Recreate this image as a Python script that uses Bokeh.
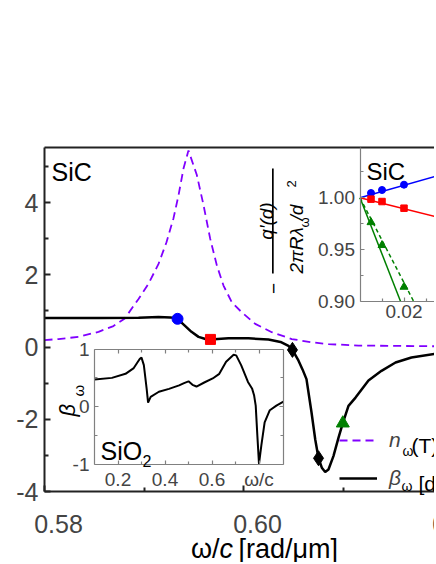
import math
from bokeh.plotting import figure
from bokeh.models import (Range1d, LinearAxis, FixedTicker, Label, Legend,
                          LegendItem, BoxAnnotation)
from bokeh.embed import file_html
from bokeh.resources import INLINE

FONT = "Liberation Sans"

# ---------------- data: main panel (SiC) ----------------
beta_omega = [0.58000, 0.58543, 0.58945, 0.59146, 0.59266, 0.59337, 0.59407, 0.59477,
              0.59548, 0.59618, 0.59668, 0.59849, 0.60050, 0.60251, 0.60372, 0.60452,
              0.60492, 0.60553, 0.60593, 0.60633, 0.60683, 0.60721, 0.60754, 0.60787,
              0.60821, 0.60854, 0.60904, 0.60955, 0.60998, 0.61055, 0.61126, 0.61256,
              0.61387, 0.61528, 0.61688, 0.61920]
beta_sic = [0.80, 0.80, 0.81, 0.83, 0.82, 0.78, 0.60, 0.42,
            0.28, 0.22, 0.21, 0.24, 0.24, 0.21, 0.14, 0.03,
            -0.08, -0.38, -0.62, -0.89, -1.80, -2.56, -3.08, -3.34,
            -3.46, -3.39, -3.02, -2.51, -2.11, -1.63, -1.40, -0.93,
            -0.66, -0.43, -0.29, -0.19]

n_omega = [0.58000, 0.58141, 0.58342, 0.58543, 0.58693, 0.58804, 0.58945, 0.59045,
           0.59146, 0.59226, 0.59296, 0.59347, 0.59397, 0.59447, 0.59531, 0.59598,
           0.59665, 0.59732, 0.59799, 0.59882, 0.59983, 0.60118, 0.60284, 0.60485,
           0.60686, 0.60854, 0.61156, 0.61558, 0.61920]
n_sic = [0.19, 0.22, 0.28, 0.42, 0.58, 0.78, 1.33, 1.75,
         2.30, 2.90, 3.56, 4.20, 4.94, 5.44, 4.76, 3.93,
         3.00, 2.26, 1.70, 1.24, 0.96, 0.64, 0.41, 0.22,
         0.13, 0.08, 0.04, 0.03, 0.02]

circle_omega, circle_beta = [0.59337], [0.78]
square_omega, square_beta = [0.59668], [0.21]
diamond_omega, diamond_beta = [0.60492, 0.60754], [-0.08, -3.08]
triangle_omega, triangle_beta = [0.60998], [-2.11]

main_x_ticks = [0.58, 0.60, 0.62]
main_x_tick_labels = ["0.58", "0.60", "0.62"]
main_x_minor = [0.59, 0.61]
main_y_ticks = [-4, -2, 0, 2, 4]
main_y_tick_labels = ["-4", "-2", "0", "2", "4"]
main_y_minor = [-3, -1, 1, 3, 5]

# ---------------- data: SiO2 inset ----------------
sio2_w = [0.100, 0.174, 0.232, 0.267, 0.293, 0.300, 0.310, 0.322, 0.328, 0.339,
          0.374, 0.417, 0.460, 0.481, 0.500, 0.517, 0.534, 0.567, 0.603, 0.631,
          0.660, 0.692, 0.703, 0.724, 0.753, 0.771, 0.779, 0.786, 0.793, 0.800,
          0.810, 0.824, 0.846, 0.874, 0.904]
sio2_beta = [0.47, 0.50, 0.57, 0.67, 0.83, 0.85, 0.72, 0.31, 0.07, 0.17,
             0.26, 0.31, 0.37, 0.41, 0.44, 0.38, 0.35, 0.42, 0.49, 0.57,
             0.78, 0.90, 0.89, 0.72, 0.43, 0.31, 0.20, 0.02, -0.50, -0.99,
             -0.67, -0.27, -0.06, 0.02, 0.09]
sio2_x_ticks = [0.2, 0.4, 0.6, 0.8]
sio2_x_tick_labels = ["0.2", "0.4", "0.6", "ω/c"]
sio2_x_minor = [0.3, 0.5, 0.7]
sio2_y_ticks = [-1, 0, 1]
sio2_y_tick_labels = ["-1", "0", "1"]
sio2_y_minor = [-0.5, 0.5]

# ---------------- data: SiC ratio inset ----------------
inv_d2 = [0.005, 0.01, 0.02]
ratio_blue = [1.0046, 1.0075, 1.0126]
ratio_red = [0.9987, 0.9964, 0.9900]
ratio_green = [0.9764, 0.9544, 0.9143]
fit_blue_x, fit_blue_y = [0.0, 0.034], [1.0, 1.0204]
fit_red_x, fit_red_y = [0.0, 0.034], [1.0, 0.982]
fit_green_x, fit_green_y = [0.0, 0.0185], [1.0, 0.90]
fit_green2_x, fit_green2_y = [0.0, 0.0245], [1.0, 0.90]
sic_x_ticks = [0.02]
sic_x_tick_labels = ["0.02"]
sic_x_minor = [0.01, 0.03]
sic_y_ticks = [0.90, 0.95, 1.00]
sic_y_tick_labels = ["0.90", "0.95", "1.00"]
sic_y_minor = [0.925, 0.975, 1.025]

# ---------------- layout (page pixels) ----------------
OFF = 2                       # observed offset of the canvas on the page
W, H = 434, 562               # canvas size; the frame fills the canvas
L, R, T, B = OFF, OFF + W, OFF, OFF + H
PLOT_TOP = 149                # page y of the top frame line of the main panel
BLUE, RED, GREEN, PURPLE, GRAY, INK = "#0000ff", "#ff0000", "#008000", "#8000ff", "#808080", "#222222"


def span(v0, p0, v1, p1, pa, pb):
    k = (v1 - v0) / (p1 - p0)
    return Range1d(start=v0 + (pa - p0) * k, end=v0 + (pb - p0) * k)


def at(v0, p0, v1, p1, pa):
    return v0 + (pa - p0) * (v1 - v0) / (p1 - p0)


p = figure(width=W, height=H, output_backend="svg", toolbar_location=None, title=None,
           x_axis_location=None, y_axis_location=None,
           x_range=span(0.58, 46, 0.60, 245, L, R),
           y_range=span(0, 348.5, -4, 493, B, T),
           min_border_left=0, min_border_right=0, min_border_top=0, min_border_bottom=0)
p.outline_line_color = None
p.grid.visible = False
p.background_fill_color = "white"
p.border_fill_color = "white"

p.extra_x_ranges = {
    "sio2_x": span(0.1, 96, 0.8, 260.5, L, R),
    "sic_x": span(0.0, 361.5, 0.02, 405.5, L, R),
    "px_x": Range1d(start=L, end=R),
}
p.extra_y_ranges = {
    "sio2_y": span(1, 350.5, -1, 466, B, T),
    "sic_y": span(1.0, 199.3, 0.9, 303.3, B, T),
    "px_y": Range1d(start=B, end=T),
}

main_top = at(0, 348.5, -4, 493, PLOT_TOP)
main_right = p.x_range.end


def axis(side, loc, bounds, ticks, minor, labels=None, xr="default", yr="default",
         color=GRAY, width=1.2, tick_in=4, minor_in=3, size=19, standoff=5):
    ax = LinearAxis(x_range_name=xr, y_range_name=yr, fixed_location=loc, bounds=bounds,
                    ticker=FixedTicker(ticks=ticks, minor_ticks=minor),
                    axis_line_color=color, axis_line_width=width,
                    major_tick_line_color=color, minor_tick_line_color=color,
                    major_tick_line_width=width, minor_tick_line_width=width,
                    major_tick_in=tick_in, major_tick_out=0, minor_tick_in=minor_in, minor_tick_out=0,
                    major_label_text_font=FONT, major_label_text_font_size=f"{size}px",
                    major_label_standoff=standoff)
    if labels is None:
        ax.major_label_text_color = None
    else:
        ax.major_label_overrides = {t: s for t, s in zip(ticks, labels)}
    p.add_layout(ax, side)


# main axes
axis("left", 0.58, (-4, main_top), main_y_ticks, main_y_minor, main_y_tick_labels,
     color=INK, width=2, tick_in=6, minor_in=4, size=25, standoff=6)
axis("below", -4, (0.58, main_right), main_x_ticks, main_x_minor,
     color=INK, width=2, tick_in=6, minor_in=4)
axis("above", main_top, (0.58, main_right), [], [], color=INK, width=2)

# main curves
r_n = p.line(n_omega, n_sic, line_color=PURPLE, line_width=1.8, line_dash="8 5")
r_beta = p.line(beta_omega, beta_sic, line_color="black", line_width=2.5)
p.scatter(circle_omega, circle_beta, marker="circle", size=11, color=BLUE)
p.scatter(square_omega, square_beta, marker="square", size=10, color=RED)
p.scatter(diamond_omega, diamond_beta, marker="diamond", size=15, color="black")
p.scatter(triangle_omega, triangle_beta, marker="triangle", size=13, color=GREEN)

# SiO2 inset
sx0, sx1 = 0.1, 0.905
axis("left", sx0, (-1, 1), sio2_y_ticks, sio2_y_minor, sio2_y_tick_labels, xr="sio2_x", yr="sio2_y")
axis("right", sx1, (-1, 1), sio2_y_ticks, sio2_y_minor, xr="sio2_x", yr="sio2_y")
axis("below", -1, (sx0, sx1), sio2_x_ticks, sio2_x_minor, sio2_x_tick_labels,
     xr="sio2_x", yr="sio2_y", standoff=4)
axis("above", 1, (sx0, sx1), sio2_x_ticks, sio2_x_minor, xr="sio2_x", yr="sio2_y")
p.line(sio2_w, sio2_beta, x_range_name="sio2_x", y_range_name="sio2_y",
       line_color="black", line_width=2)

# SiC ratio inset
sic_top = at(1.0, 199.3, 0.9, 303.3, PLOT_TOP)
sic_right = p.extra_x_ranges["sic_x"].end
axis("left", 0.0, (0.90, sic_top), sic_y_ticks, sic_y_minor, sic_y_tick_labels,
     xr="sic_x", yr="sic_y", standoff=5)
axis("below", 0.90, (0.0, sic_right), sic_x_ticks, sic_x_minor, sic_x_tick_labels,
     xr="sic_x", yr="sic_y", standoff=3)
kw = dict(x_range_name="sic_x", y_range_name="sic_y")
p.line(fit_blue_x, fit_blue_y, line_color=BLUE, line_width=1.5, **kw)
p.line(fit_red_x, fit_red_y, line_color=RED, line_width=1.5, **kw)
p.line(fit_green_x, fit_green_y, line_color=GREEN, line_width=1.5, **kw)
p.line(fit_green2_x, fit_green2_y, line_color=GREEN, line_width=1.5, line_dash="4 3", **kw)
p.scatter(inv_d2, ratio_blue, marker="circle", size=7, color=BLUE, **kw)
p.scatter(inv_d2, ratio_red, marker="square", size=6.5, color=RED, **kw)
p.scatter(inv_d2, ratio_green, marker="triangle", size=8, color=GREEN, **kw)

# legend (row lines at y = 437 and 475 on the page)
legend = Legend(items=[LegendItem(label="n", renderers=[r_n]),
                       LegendItem(label="β", renderers=[r_beta])],
                location=(341 - L, B - 495),
                border_line_color=None, background_fill_alpha=0,
                padding=0, margin=0, spacing=8, glyph_width=38, glyph_height=20,
                label_height=30, label_standoff=12, label_text_font=FONT,
                label_text_font_size="21px", label_text_font_style="italic")
p.add_layout(legend)


def txt(x, y, s, size, italic=False, align="left", baseline="alphabetic", angle=0.0):
    p.add_layout(Label(x=x, y=y, x_range_name="px_x", y_range_name="px_y", text=s,
                       text_font=FONT, text_font_size=f"{size}px",
                       text_font_style="italic" if italic else "normal",
                       text_align=align, text_baseline=baseline, angle=angle,
                       text_color="black"))


UP = math.pi / 2

# main x tick labels (shifted right of their ticks, as in the original)
for t, s in zip(main_x_ticks, main_x_tick_labels):
    p.add_layout(Label(x=t, y=525, y_range_name="px_y", x_offset=14, text=s,
                       text_font=FONT, text_font_size="25px", text_align="center",
                       text_baseline="alphabetic"))

# x axis title: ω/c [rad/μm]
txt(221, 550, "ω/", 27, align="right")
txt(221, 550, "c", 27, italic=True)
txt(240, 550, "[rad/μm]", 27)

# panel tags
txt(53, 173, "SiC", 25)
txt(368, 173, "SiC", 24)
txt(102, 452, "SiO", 25)
txt(144, 462, "2", 16)

# SiO2 inset y label β_ω (rotated)
txt(68.5, 418, "β", 22, italic=True, angle=UP)
txt(80, 398, "ω", 15, angle=UP)

# SiC inset y label: − q'(d) / (2πRλ_ω/d²)
txt(267.5, 222.5, "q′(d)", 19, italic=True, align="center", baseline="middle", angle=UP)
p.add_layout(BoxAnnotation(left=273.5, right=275.2, top=170, bottom=275,
                           x_range_name="px_x", y_range_name="px_y",
                           fill_color="black", fill_alpha=1, line_color=None))
txt(275, 290, "−", 19, align="center", baseline="middle", angle=UP)
txt(298.3, 275, "2πRλ", 19, italic=True, angle=UP)
txt(305.5, 229, "ω", 13, angle=UP)
txt(298.3, 222, "/d", 19, italic=True, angle=UP)
txt(292.5, 189, "2", 13, angle=UP)

# legend subscripts / rest of the legend texts
txt(404, 452, "ω", 14)
txt(413, 447, "(T)", 21)
txt(403, 487, "ω", 14)
txt(420, 485, "[d", 21)

open("out.html", "w").write(file_html(p, INLINE))
